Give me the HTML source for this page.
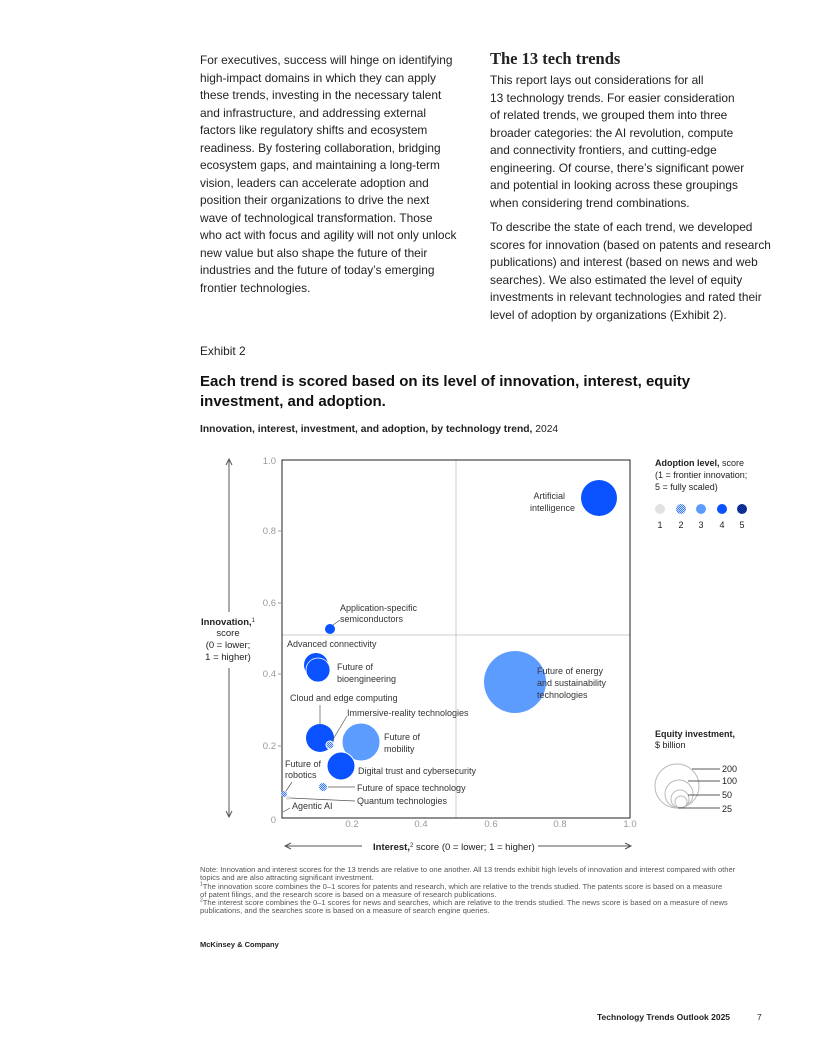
<!DOCTYPE html><html><head><style>
body{margin:0;width:816px;height:1056px;background:#fff;font-family:"Liberation Sans",sans-serif;color:#222;position:relative;overflow:hidden}
.p{position:absolute;font-size:11.9px;line-height:17.5px;white-space:nowrap}
</style></head><body>
<div class="p" style="left:200px;top:52px">For executives, success will hinge on identifying<br>high-impact domains in which they can apply<br>these trends, investing in the necessary talent<br>and infrastructure, and addressing external<br>factors like regulatory shifts and ecosystem<br>readiness. By fostering collaboration, bridging<br>ecosystem gaps, and maintaining a long-term<br>vision, leaders can accelerate adoption and<br>position their organizations to drive the next<br>wave of technological transformation. Those<br>who act with focus and agility will not only unlock<br>new value but also shape the future of their<br>industries and the future of today’s emerging<br>frontier technologies.</div>
<div style="position:absolute;left:490px;top:49px;font-family:'Liberation Serif',serif;font-weight:bold;font-size:16.5px">The 13 tech trends</div>
<div class="p" style="left:490px;top:72px">This report lays out considerations for all<br>13 technology trends. For easier consideration<br>of related trends, we grouped them into three<br>broader categories: the AI revolution, compute<br>and connectivity frontiers, and cutting-edge<br>engineering. Of course, there’s significant power<br>and potential in looking across these groupings<br>when considering trend combinations.</div>
<div class="p" style="left:490px;top:219px">To describe the state of each trend, we developed<br>scores for innovation (based on patents and research<br>publications) and interest (based on news and web<br>searches). We also estimated the level of equity<br>investments in relevant technologies and rated their<br>level of adoption by organizations (Exhibit 2).</div>
<div class="p" style="left:200px;top:343px">Exhibit 2</div>
<div style="position:absolute;left:200px;top:372px;font-size:15px;font-weight:bold;line-height:20px;color:#111">Each trend is scored based on its level of innovation, interest, equity<br>investment, and adoption.</div>
<div style="position:absolute;left:200px;top:424px;font-size:10.3px"><b>Innovation, interest, investment, and adoption, by technology trend,</b> 2024</div>
<svg style="position:absolute;left:0;top:0" width="816" height="1056" font-family="Liberation Sans, sans-serif">
<defs><pattern id="pt" width="2" height="2" patternUnits="userSpaceOnUse"><rect width="2" height="2" fill="#cfe0ff"/><rect width="1" height="1" fill="#3b78f5"/><rect x="1" y="1" width="1" height="1" fill="#3b78f5"/></pattern>
<pattern id="pt5" width="2" height="2" patternUnits="userSpaceOnUse"><rect width="2" height="2" fill="#0a3fd8"/><rect width="1" height="1" fill="#0a1a50"/><rect x="1" y="1" width="1" height="1" fill="#0a1a50"/></pattern></defs>
<line x1="456" y1="460" x2="456" y2="818" stroke="#ccc"/>
<line x1="282" y1="635" x2="630" y2="635" stroke="#ccc"/>
<rect x="282" y="460" width="348" height="358" fill="none" stroke="#222"/>
<g font-size="9.5" fill="#999" text-anchor="end">
<text x="276" y="464">1.0</text><text x="276" y="534">0.8</text><text x="276" y="606">0.6</text><text x="276" y="677">0.4</text><text x="276" y="749">0.2</text><text x="276" y="823">0</text></g>
<g stroke="#999"><line x1="278" y1="531" x2="282" y2="531"/><line x1="278" y1="603" x2="282" y2="603"/><line x1="278" y1="674" x2="282" y2="674"/><line x1="278" y1="746" x2="282" y2="746"/></g>
<g font-size="9.5" fill="#999" text-anchor="middle"><text x="352" y="827">0.2</text><text x="421" y="827">0.4</text><text x="491" y="827">0.6</text><text x="560" y="827">0.8</text><text x="630" y="827">1.0</text></g>
<g stroke="#555"><line x1="229" y1="460" x2="229" y2="612"/><line x1="229" y1="668" x2="229" y2="816"/><path d="M226,465 L229,459 L232,465" fill="none"/><path d="M226,811 L229,817 L232,811" fill="none"/>
<line x1="286" y1="846" x2="362" y2="846"/><line x1="538" y1="846" x2="630" y2="846"/><path d="M291,843 L285,846 L291,849" fill="none"/><path d="M625,843 L631,846 L625,849" fill="none"/></g>
<text x="373" y="850" font-size="9.5" fill="#222"><tspan font-weight="bold">Interest,</tspan><tspan font-size="6" dy="-3">2</tspan><tspan dy="3"> score (0 = lower; 1 = higher)</tspan></text>
<g font-size="9.5" text-anchor="middle" fill="#222"><text x="228" y="625" font-weight="bold">Innovation,<tspan font-size="6" font-weight="normal" dy="-3">1</tspan></text><text x="228" y="636">score</text><text x="228" y="648">(0 = lower;</text><text x="228" y="660">1 = higher)</text></g>
<circle cx="599" cy="498" r="18" fill="#0a52ff"/>
<circle cx="515" cy="682" r="31" fill="#5d9cff"/>
<circle cx="330" cy="629" r="5" fill="#0a52ff"/>
<circle cx="316" cy="665" r="12" fill="#0a52ff"/>
<circle cx="318" cy="670" r="12" fill="#0a52ff" stroke="#fff" stroke-width="0.8"/>
<circle cx="320" cy="738" r="14" fill="#0a52ff"/>
<circle cx="361" cy="742" r="19" fill="#5d9cff" stroke="#fff"/>
<circle cx="341" cy="766" r="14" fill="#0a52ff" stroke="#fff"/>
<circle cx="330" cy="745" r="4" fill="url(#pt)" stroke="#fff"/>
<circle cx="323" cy="787" r="4" fill="url(#pt)"/>
<circle cx="284" cy="794" r="3" fill="url(#pt)"/>
<circle cx="288" cy="798" r="2" fill="#ddd"/>
<g stroke="#555" stroke-width="0.7" fill="none"><line x1="333" y1="625" x2="340" y2="620"/><line x1="320" y1="705" x2="320" y2="724"/><line x1="332" y1="741" x2="347" y2="716"/><line x1="328" y1="787" x2="355" y2="787"/><line x1="290" y1="798" x2="355" y2="801"/><line x1="286" y1="791" x2="292" y2="782"/><line x1="283" y1="812" x2="290" y2="808"/></g>
<g font-size="9" fill="#333">
<text x="565" y="499" text-anchor="end">Artificial</text><text x="575" y="511" text-anchor="end">intelligence</text>
<text x="340" y="611">Application-specific</text><text x="340" y="622">semiconductors</text>
<text x="287" y="647">Advanced connectivity</text>
<text x="337" y="670">Future of</text><text x="337" y="682">bioengineering</text>
<text x="537" y="674">Future of energy</text><text x="537" y="686">and sustainability</text><text x="537" y="698">technologies</text>
<text x="290" y="701">Cloud and edge computing</text>
<text x="347" y="716">Immersive-reality technologies</text>
<text x="384" y="740">Future of</text><text x="384" y="752">mobility</text>
<text x="358" y="774">Digital trust and cybersecurity</text>
<text x="285" y="767">Future of</text><text x="285" y="778">robotics</text>
<text x="357" y="791">Future of space technology</text>
<text x="357" y="804">Quantum technologies</text>
<text x="292" y="809">Agentic AI</text></g>
<g font-size="9" fill="#222"><text x="655" y="466"><tspan font-weight="bold">Adoption level,</tspan> score</text><text x="655" y="478">(1 = frontier innovation;</text><text x="655" y="490">5 = fully scaled)</text>
<circle cx="660" cy="509" r="5" fill="#e2e2e2"/><circle cx="681" cy="509" r="5" fill="url(#pt)"/><circle cx="701" cy="509" r="5" fill="#5d9cff"/><circle cx="722" cy="509" r="5" fill="#0a52ff"/><circle cx="742" cy="509" r="5" fill="url(#pt5)"/>
<g text-anchor="middle"><text x="660" y="528">1</text><text x="681" y="528">2</text><text x="701" y="528">3</text><text x="722" y="528">4</text><text x="742" y="528">5</text></g>
<text x="655" y="737" font-weight="bold">Equity investment,</text><text x="655" y="748">$ billion</text>
<g fill="none" stroke="#bbb"><circle cx="677" cy="786" r="22"/><circle cx="679" cy="794" r="14"/><circle cx="680" cy="799" r="9"/><circle cx="681" cy="802" r="6"/></g>
<g stroke="#222" stroke-width="0.8"><line x1="692" y1="769" x2="720" y2="769"/><line x1="688" y1="781" x2="720" y2="781"/><line x1="688" y1="795" x2="720" y2="795"/><line x1="678" y1="808" x2="720" y2="808"/></g>
<text x="722" y="772">200</text><text x="722" y="784">100</text><text x="722" y="798">50</text><text x="722" y="812">25</text></g>
</svg>
<div style="position:absolute;left:200px;top:866px;font-size:7.6px;line-height:8.3px;color:#555;white-space:nowrap">Note: Innovation and interest scores for the 13 trends are relative to one another. All 13 trends exhibit high levels of innovation and interest compared with other<br>topics and are also attracting significant investment.<br><sup style="font-size:5px;line-height:0">1</sup>The innovation score combines the 0–1 scores for patents and research, which are relative to the trends studied. The patents score is based on a measure<br>of patent filings, and the research score is based on a measure of research publications.<br><sup style="font-size:5px;line-height:0">2</sup>The interest score combines the 0–1 scores for news and searches, which are relative to the trends studied. The news score is based on a measure of news<br>publications, and the searches score is based on a measure of search engine queries.</div>
<div style="position:absolute;left:200px;top:940px;font-size:7.5px;font-weight:bold;color:#222">McKinsey &amp; Company</div>
<div style="position:absolute;left:597px;top:1012px;font-size:8.5px;font-weight:bold;color:#222">Technology Trends Outlook 2025</div>
<div style="position:absolute;left:757px;top:1012px;font-size:8.5px;color:#222">7</div>
</body></html>
